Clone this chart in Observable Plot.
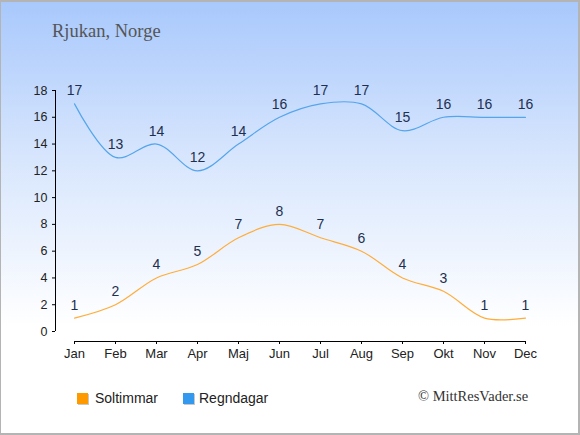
<!DOCTYPE html>
<html><head><meta charset="utf-8">
<script src="https://cdn.jsdelivr.net/npm/d3@7"></script>
<script src="https://cdn.jsdelivr.net/npm/@observablehq/plot@0.6"></script>
<style>
body{margin:0}
#wrap{position:relative;width:580px;height:435px;background:linear-gradient(#a8c8fc 0%, #d6e5fd 35%, #ffffff 75%);overflow:hidden;font-family:"Liberation Sans",Arial,sans-serif}
#wrap svg{position:absolute;left:0;top:0}
#border{position:absolute;left:0;top:0;width:580px;height:435px;box-sizing:border-box;border:2px solid #b4b4b4;border-left-width:1px;pointer-events:none}
#title{position:absolute;left:52px;top:22px;font-family:"Liberation Serif",serif;font-size:18.5px;line-height:18px;color:#555;white-space:nowrap}
.leg{position:absolute;top:390px;height:16px;display:flex;align-items:center;font-size:14px;color:#222;white-space:nowrap}
.sw{width:11px;height:11px;box-shadow:1px 1px 0 #c8c8c8;margin-right:7px}
#copy{position:absolute;left:418px;top:389px;font-family:"Liberation Serif",serif;font-size:14.5px;line-height:14px;color:#333;white-space:nowrap}
</style>
</head><body>
<div id="wrap">
<div id="title">Rjukan, Norge</div>
<div class="leg" style="left:77px"><div class="sw" style="background:#ff9900"></div>Soltimmar</div>
<div class="leg" style="left:183px"><div class="sw" style="background:#3399ee;margin-right:5px"></div>Regndagar</div>
<div id="copy">© MittResVader.se</div>
<div id="border"></div>
</div>
<script>
const months = ["Jan","Feb","Mar","Apr","Maj","Jun","Jul","Aug","Sep","Okt","Nov","Dec"];
const soltimmar = [1,2,4,5,7,8,7,6,4,3,1,1];
const regndagar = [17,13,14,12,14,16,17,17,15,16,16,16];
const yTicks = [0,2,4,6,8,10,12,14,16,18];

const sol = months.map((m,i)=>({month:m, value:soltimmar[i]}));
const regn = months.map((m,i)=>({month:m, value:regndagar[i]}));

const chart = Plot.plot({
  width:580, height:435,
  marginTop:90, marginBottom:94, marginLeft:55, marginRight:55,
  style:{background:"transparent", fontFamily:"'Liberation Sans', Arial, sans-serif", fontSize:"12px", color:"#222"},
  x:{type:"point", domain:months, range:[74,525], padding:0, label:null},
  y:{domain:[0,18], range:[331,90], label:null},
  marks:[
    Plot.ruleX(["Jan"], {x:d=>d, y1:()=>0, y2:()=>18, dx:-19, stroke:"#000"}),
    Plot.ruleY([0], {x1:()=>"Jan", x2:()=>"Dec", dy:10, stroke:"#000"}),
    Plot.axisY({ticks:yTicks, tickSize:3, tickPadding:5, anchor:"left", label:null, stroke:"#000", fill:"#222", fontSize:12.5}),
    Plot.axisX({tickSize:3, tickPadding:4, anchor:"bottom", label:null, stroke:"#000", fill:"#222", fontSize:13}),
    Plot.line(regn, {x:"month", y:"value", curve:"catmull-rom", stroke:"#55a5ec", strokeWidth:1.2}),
    Plot.line(sol, {x:"month", y:"value", curve:"catmull-rom", stroke:"#ffad3a", strokeWidth:1.2}),
    Plot.text(regn, {x:"month", y:"value", text:d=>String(d.value), dy:-13, fill:"#1d3050", fontSize:14}),
    Plot.text(sol, {x:"month", y:"value", text:d=>String(d.value), dy:-13, fill:"#1d3050", fontSize:14})
  ]
});
document.getElementById("wrap").insertBefore(chart, document.getElementById("title"));
</script>
</body></html>
